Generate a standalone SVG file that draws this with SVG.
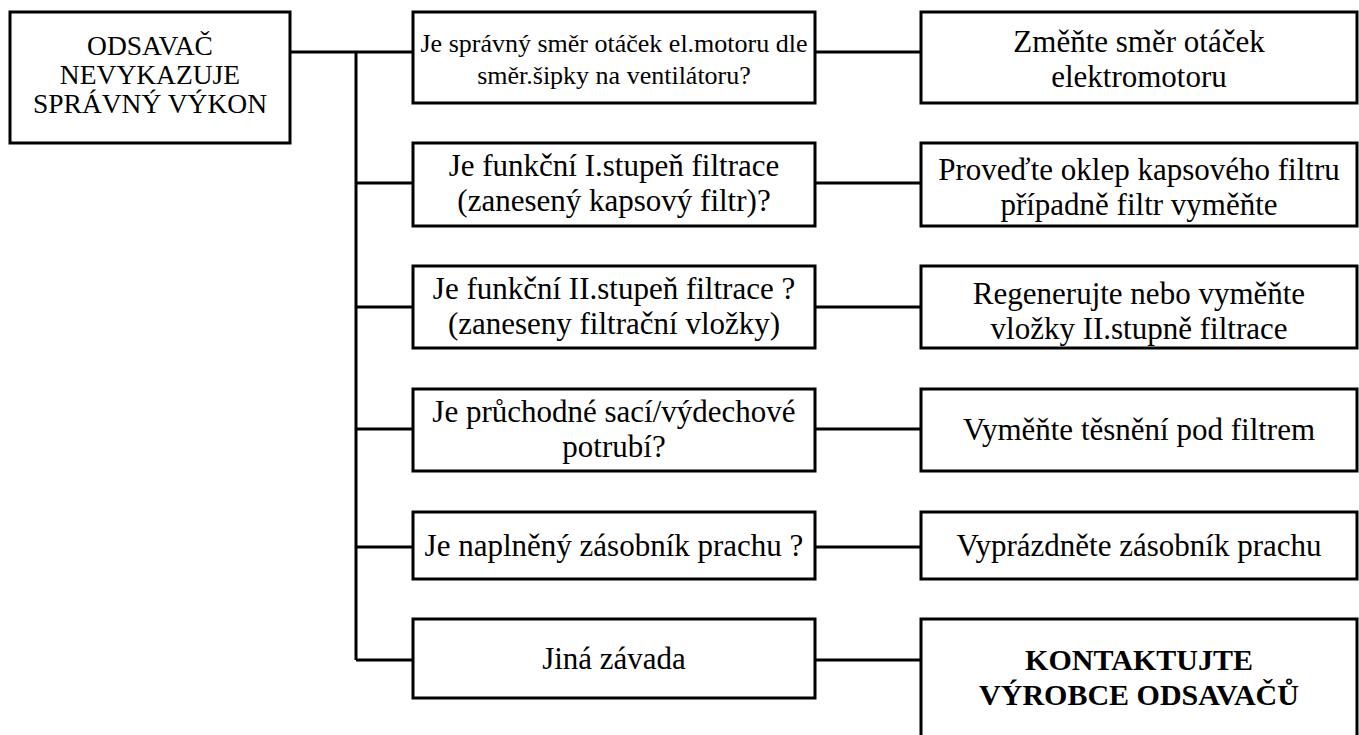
<svg xmlns="http://www.w3.org/2000/svg" width="1359" height="735" viewBox="0 0 1359 735">
<style>
.box{fill:#fff;stroke:#000;stroke-width:3}
.ln{fill:none;stroke:#000;stroke-width:3}
text{font-family:"Liberation Serif","Times New Roman",serif;fill:#000;text-anchor:middle}
.t{font-size:31px}
.s{font-size:26px}
.l{font-size:27.5px}
.b{font-size:30px;font-weight:bold}
</style>
<rect width="1359" height="735" fill="#fff"/>
<g id="connectors">
<path class="ln" d="M290,52H413M356,52V660M356,183H413M356,307H413M356,429H413M356,547H413M356,660H413"/>
<path class="ln" d="M815,52H921M815,183H921M815,307H921M815,429H921M815,547H921M815,660H921"/>
</g>
<g id="n0"><rect class="box" x="10" y="12" width="280" height="131"/>
<text class="l" x="150" y="55">ODSAVAČ</text><text class="l" x="150" y="84">NEVYKAZUJE</text><text class="l" x="150" y="113">SPRÁVNÝ VÝKON</text></g>
<g id="q1"><rect class="box" x="413" y="12" width="402" height="91"/>
<text class="s" x="614" y="52">Je správný směr otáček el.motoru dle</text><text class="s" x="614" y="84">směr.šipky na ventilátoru?</text></g>
<g id="q2"><rect class="box" x="413" y="143" width="402" height="83"/>
<text class="t" x="614" y="176">Je funkční I.stupeň filtrace</text><text class="t" x="614" y="211">(zanesený kapsový filtr)?</text></g>
<g id="q3"><rect class="box" x="413" y="266" width="402" height="82"/>
<text class="t" x="614" y="299">Je funkční II.stupeň filtrace ?</text><text class="t" x="614" y="334">(zaneseny filtrační vložky)</text></g>
<g id="q4"><rect class="box" x="413" y="389" width="402" height="82"/>
<text class="t" x="614" y="422">Je průchodné sací/výdechové</text><text class="t" x="614" y="457">potrubí?</text></g>
<g id="q5"><rect class="box" x="413" y="512" width="402" height="67"/>
<text class="t" x="614" y="556">Je naplněný zásobník prachu ?</text></g>
<g id="q6"><rect class="box" x="413" y="619" width="402" height="79"/>
<text class="t" x="614" y="669">Jiná závada</text></g>
<g id="a1"><rect class="box" x="921" y="12" width="436" height="91"/>
<text class="t" x="1139" y="52">Změňte směr otáček</text><text class="t" x="1139" y="87">elektromotoru</text></g>
<g id="a2"><rect class="box" x="921" y="143" width="436" height="83"/>
<text class="t" x="1139" y="180">Proveďte oklep kapsového filtru</text><text class="t" x="1139" y="215">případně filtr vyměňte</text></g>
<g id="a3"><rect class="box" x="921" y="266" width="436" height="82"/>
<text class="t" x="1139" y="304">Regenerujte nebo vyměňte</text><text class="t" x="1139" y="339">vložky II.stupně filtrace</text></g>
<g id="a4"><rect class="box" x="921" y="389" width="436" height="82"/>
<text class="t" x="1139" y="440">Vyměňte těsnění pod filtrem</text></g>
<g id="a5"><rect class="box" x="921" y="512" width="436" height="67"/>
<text class="t" x="1139" y="556">Vyprázdněte zásobník prachu</text></g>
<g id="a6"><rect class="box" x="921" y="619" width="436" height="140"/>
<text class="b" x="1139" y="670">KONTAKTUJTE</text><text class="b" x="1139" y="705">VÝROBCE ODSAVAČŮ</text></g>
</svg>
